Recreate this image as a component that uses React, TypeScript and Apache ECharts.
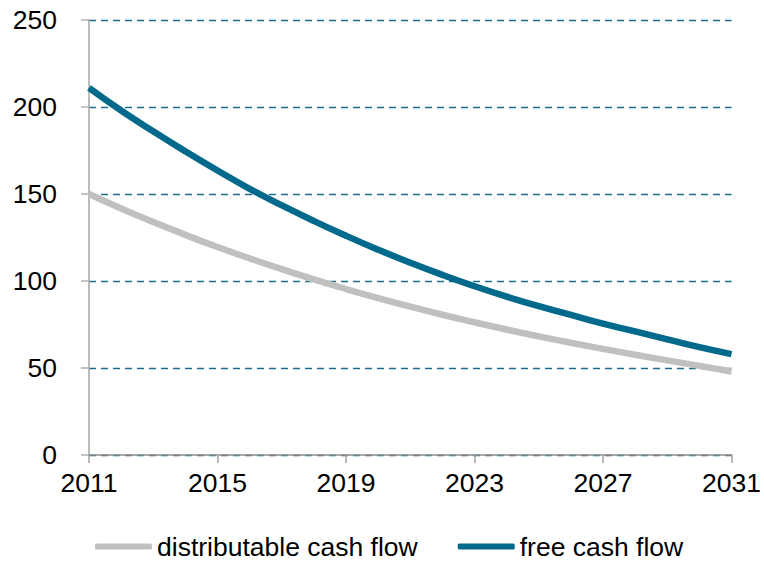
import React, { useEffect, useRef } from "react";
import * as echarts from "echarts";

const years = [
  "2011", "2012", "2013", "2014", "2015", "2016", "2017", "2018", "2019", "2020",
  "2021", "2022", "2023", "2024", "2025", "2026", "2027", "2028", "2029", "2030", "2031",
];
const distributableCashFlow = [
  150, 141.7, 133.9, 126.5, 119.5, 113, 106.8, 100.9, 95.4, 90.2,
  85.3, 80.6, 76.3, 72.1, 68.2, 64.5, 61, 57.6, 54.4, 51.2, 48,
];
const freeCashFlow = [
  211, 198, 186, 174.5, 163.5, 153, 143.5, 134.5, 126, 118,
  110.5, 103.5, 97, 91, 85.5, 80.5, 75.5, 71, 66.5, 62, 58,
];
const seriesNames = ["distributable cash flow", "free cash flow"];

const FONT = "'Liberation Sans', Arial, sans-serif";
const FS = 26.5;

export default function App() {
  const ref = useRef<HTMLDivElement>(null);
  useEffect(() => {
    if (!ref.current) return;
    const chart = echarts.init(ref.current, undefined, { renderer: "svg" });
    chart.setOption({
      animation: false,
      backgroundColor: "#ffffff",
      textStyle: { fontFamily: FONT },
      grid: { left: 89, right: 30, top: 20, bottom: 108 },
      legend: {
        top: 533,
        left: 95,
        padding: 0,
        itemWidth: 57,
        itemHeight: 6,
        itemGap: 40,
        icon: "roundRect",
        textStyle: { fontFamily: FONT, fontSize: FS, lineHeight: 22, color: "#000" },
        data: seriesNames,
      },
      xAxis: {
        type: "category",
        data: years,
        boundaryGap: false,
        axisLine: { lineStyle: { color: "#8c8c8c", width: 1.5 } },
        axisTick: { interval: 3, length: 8, lineStyle: { color: "#a0a0a0", width: 1.5 } },
        axisLabel: { interval: 3, margin: 14, fontSize: FS, color: "#000", fontFamily: FONT },
        splitLine: { show: false },
      },
      yAxis: {
        type: "value",
        min: 0,
        max: 250,
        interval: 50,
        axisLine: { show: true, lineStyle: { color: "#a6a6a6", width: 1.5 } },
        axisTick: { show: true, length: 8, lineStyle: { color: "#b0b0b0", width: 1.5 } },
        axisLabel: { margin: 32, fontSize: FS, color: "#000", fontFamily: FONT },
        splitLine: { show: true, lineStyle: { color: "#1b6e8c", width: 1.4, type: [7, 5] } },
      },
      series: [
        {
          name: seriesNames[0],
          type: "line",
          data: distributableCashFlow,
          smooth: true,
          showSymbol: false,
          symbol: "none",
          lineStyle: { color: "#c0c0c0", width: 6.5 },
          itemStyle: { color: "#c0c0c0" },
        },
        {
          name: seriesNames[1],
          type: "line",
          data: freeCashFlow,
          smooth: true,
          showSymbol: false,
          symbol: "none",
          lineStyle: { color: "#00698c", width: 6.5 },
          itemStyle: { color: "#00698c" },
        },
      ],
    });
    return () => chart.dispose();
  }, []);
  return (
    <div
      ref={ref}
      style={{ position: "absolute", left: 0, top: 0, width: 764, height: 563 }}
    />
  );
}
